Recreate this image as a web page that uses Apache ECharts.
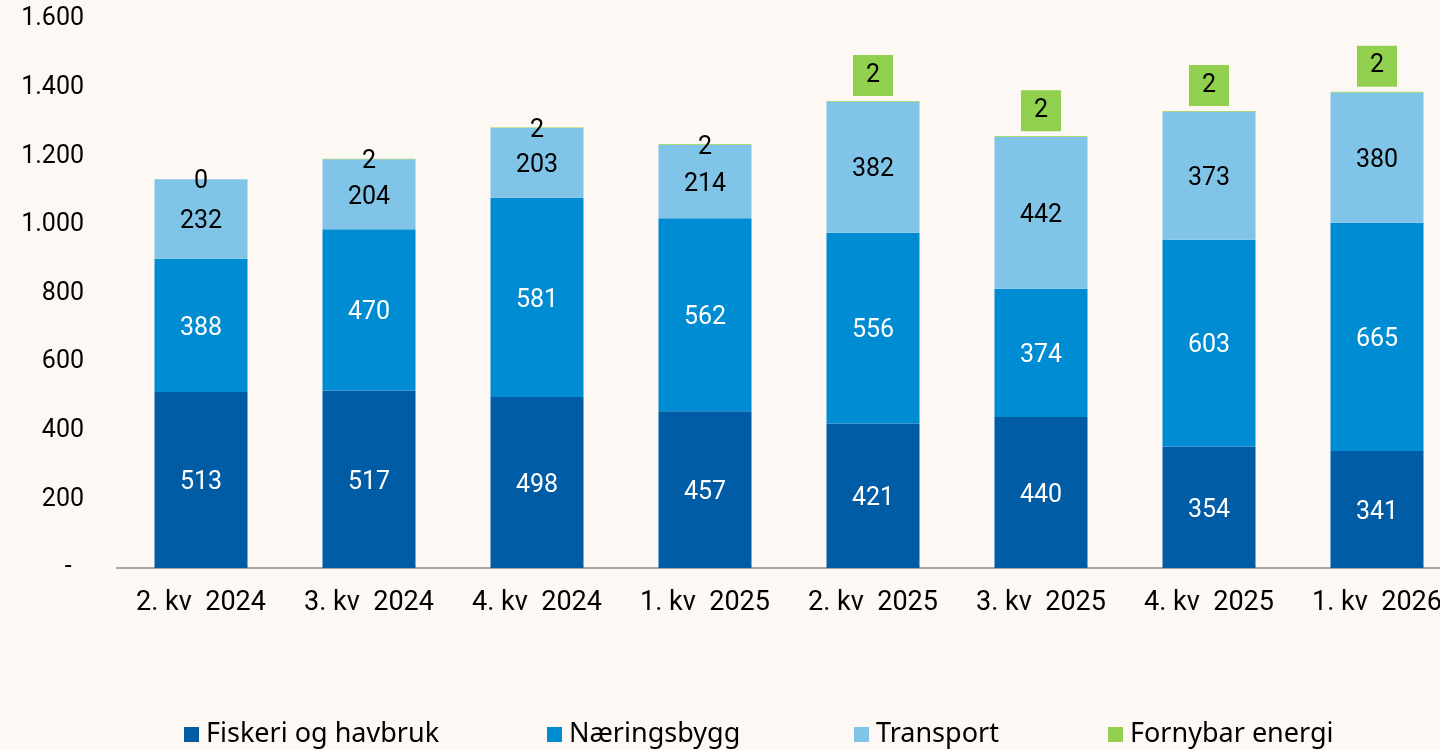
<!DOCTYPE html>
<html><head><meta charset="utf-8">
<script src="https://cdn.jsdelivr.net/npm/echarts@6/dist/echarts.min.js"></script>
<style>html,body{margin:0;padding:0;background:#fdf8f4;}#c{width:1440px;height:750px;}</style>
</head><body><div id="c"></div>
<script>
const categories = ["2. kv  2024","3. kv  2024","4. kv  2024","1. kv  2025","2. kv  2025","3. kv  2025","4. kv  2025","1. kv  2026"];
const fiskeri = [513,517,498,457,421,440,354,341];
const naering = [388,470,581,562,556,374,603,665];
const transport = [232,204,203,214,382,442,373,380];
const fornybar = [0,2,2,2,2,2,2,2];
const boxedGreen = [false,false,false,false,true,true,true,true];
const seriesNames = ["Fiskeri og havbruk","Næringsbygg","Transport","Fornybar energi"];
const colors = ["#005ca5","#008cd2","#80c5e8","#92d050"];
const yTicks = {min:0,max:1600,interval:200};

const FONT = "Roboto";
const chart = echarts.init(document.getElementById('c'));
function lbl(color){return {show:true,position:'inside',offset:[0,3],color:color,fontSize:25,fontFamily:FONT};}
const greenData = fornybar.map((v,i)=> boxedGreen[i]
  ? {value:v,label:{show:true,position:'top',offset:[0,0],distance:5,backgroundColor:'#92d050',padding:[8,13,8,13],color:'#000',fontSize:25,fontFamily:FONT}}
  : {value:v});
const legends = seriesNames.map((n,i)=>({
  data:[n], left:[179,542,849,1103][i], top:716, itemWidth:15, itemHeight:15, itemGap:0,
  textStyle:{fontSize:27,fontFamily:"Noto Sans",color:'#000',padding:[0,0,0,2]}, icon:'rect'
}));
chart.setOption({
  backgroundColor:'#fdf8f4',
  animation:false,
  color:colors,
  legend:legends,
  grid:{left:117,right:-21,top:19,bottom:182,containLabel:false,outerBoundsMode:'none'},
  xAxis:{type:'category',data:categories,
    axisLine:{lineStyle:{color:'#a6a6a6',width:2}},axisTick:{show:false},
    axisLabel:{color:'#000',fontSize:27,fontFamily:FONT,margin:22,interval:0,hideOverlap:false}},
  yAxis:{type:'value',min:yTicks.min,max:yTicks.max,interval:yTicks.interval,
    splitLine:{show:false},axisLine:{show:false},axisTick:{show:false},
    axisLabel:{color:'#000',fontSize:25,fontFamily:FONT,margin:33,
      formatter:v=> v===0?'-  ':String(v).replace(/\B(?=(\d{3})+(?!\d))/g,'.')}},
  series:[
    {name:seriesNames[0],type:'bar',stack:'a',barWidth:93,data:fiskeri,label:lbl('#fff')},
    {name:seriesNames[1],type:'bar',stack:'a',barWidth:93,data:naering,label:lbl('#fff')},
    {name:seriesNames[2],type:'bar',stack:'a',barWidth:93,data:transport,label:lbl('#000')},
    {name:seriesNames[3],type:'bar',stack:'a',barWidth:93,data:greenData,label:lbl('#000')}
  ]
});
</script></body></html>
